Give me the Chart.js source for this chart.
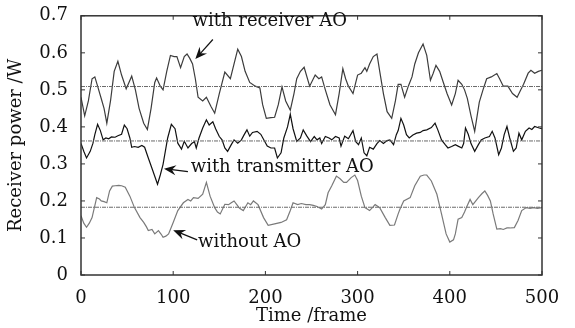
<!DOCTYPE html>
<html>
<head>
<meta charset="utf-8">
<script src="https://cdn.jsdelivr.net/npm/chart.js@4/dist/chart.umd.min.js"></script>
<style>
  html, body { margin: 0; padding: 0; background: #fff; }
  #wrap { width: 575px; height: 328px; }
</style>
</head>
<body>
<div id="wrap"><canvas id="powerChart" width="575" height="328"></canvas></div>
<script>
// frames / power
const receiverFrames = [0,4,8,12,15,18,22,25,28,32,36,40,44,49,52,55,59,63,68,72,76,80,82,86,89,93,97,101,104,108,112,115,118,121,124,127,132,136,141,145,150,156,162,166,170,174,178,183,189,194,197,201,206,210,214,218,222,227,231,234,238,242,248,254,258,261,265,270,276,280,284,287,290,295,300,304,308,310,313,317,321,324,328,332,337,341,344,347,351,355,359,362,366,371,375,379,382,385,389,393,397,402,406,409,413,416,419,423,427,432,436,440,445,451,454,458,463,468,473,477,480,485,488,492,496,500];
const receiverPower = [0.48,0.43,0.47,0.53,0.535,0.51,0.476,0.45,0.41,0.47,0.55,0.577,0.54,0.503,0.52,0.537,0.50,0.45,0.41,0.393,0.45,0.52,0.532,0.51,0.50,0.55,0.593,0.59,0.59,0.56,0.59,0.597,0.585,0.57,0.53,0.48,0.47,0.48,0.455,0.437,0.49,0.548,0.53,0.57,0.61,0.59,0.55,0.52,0.51,0.505,0.46,0.423,0.425,0.426,0.46,0.508,0.47,0.445,0.49,0.53,0.55,0.561,0.51,0.54,0.53,0.535,0.50,0.46,0.433,0.49,0.557,0.53,0.51,0.49,0.54,0.545,0.56,0.55,0.57,0.59,0.597,0.55,0.49,0.441,0.423,0.47,0.515,0.515,0.48,0.51,0.535,0.57,0.60,0.624,0.593,0.526,0.545,0.566,0.55,0.52,0.49,0.459,0.49,0.526,0.515,0.50,0.477,0.43,0.388,0.467,0.50,0.53,0.535,0.544,0.53,0.51,0.51,0.49,0.48,0.50,0.515,0.545,0.553,0.545,0.55,0.553];

const transmitterFrames = [0,3,6,10,13,15,18,21,24,27,30,33,37,40,44,47,50,53,55,58,62,66,69,73,78,83,86,89,94,98,102,105,109,112,116,120,123,125,128,132,136,139,143,146,150,153,156,159,163,166,170,174,177,180,183,186,191,195,199,202,206,210,213,217,220,224,227,230,234,238,241,245,249,253,256,259,261,265,269,272,276,280,282,286,290,295,298,301,304,307,310,313,317,321,324,328,332,335,339,342,344,347,350,353,356,360,364,368,371,375,380,384,387,391,395,398,402,406,409,413,415,417,420,423,427,431,434,438,443,446,449,453,456,459,462,465,469,472,475,478,482,486,489,492,497,500];
const transmitterPower = [0.355,0.334,0.316,0.334,0.356,0.379,0.407,0.39,0.365,0.37,0.368,0.373,0.372,0.376,0.38,0.405,0.395,0.37,0.345,0.347,0.345,0.35,0.345,0.316,0.281,0.245,0.27,0.299,0.37,0.407,0.395,0.356,0.34,0.361,0.343,0.355,0.36,0.343,0.37,0.397,0.419,0.405,0.414,0.395,0.374,0.365,0.343,0.334,0.352,0.365,0.356,0.365,0.379,0.392,0.375,0.385,0.388,0.38,0.362,0.348,0.343,0.343,0.316,0.33,0.37,0.40,0.434,0.395,0.361,0.37,0.392,0.375,0.36,0.374,0.365,0.37,0.355,0.374,0.37,0.365,0.374,0.37,0.348,0.375,0.368,0.39,0.36,0.352,0.37,0.33,0.322,0.345,0.34,0.355,0.363,0.355,0.363,0.365,0.352,0.379,0.39,0.423,0.405,0.379,0.37,0.378,0.383,0.385,0.39,0.392,0.398,0.41,0.392,0.365,0.352,0.343,0.347,0.352,0.348,0.343,0.355,0.397,0.38,0.355,0.334,0.352,0.365,0.37,0.374,0.388,0.37,0.325,0.343,0.379,0.401,0.37,0.334,0.343,0.383,0.365,0.388,0.397,0.393,0.401,0.397,0.395];

const noAoFrames = [0,3,6,9,12,17,20,22,25,28,31,34,37,41,44,48,53,58,64,68,71,73,77,80,84,87,89,92,95,100,105,111,116,119,122,127,132,136,140,145,148,151,156,160,163,166,169,172,176,181,184,187,192,198,203,210,217,223,227,230,235,239,244,248,252,256,261,265,268,272,277,281,285,288,293,297,300,304,308,313,316,319,324,330,335,340,344,346,350,357,362,368,372,375,380,386,391,396,400,404,406,409,413,416,418,422,425,431,435,438,441,444,447,451,455,458,462,465,470,474,478,483,487,491,495,500];
const noAoPower = [0.16,0.14,0.129,0.14,0.155,0.209,0.205,0.2,0.198,0.195,0.227,0.24,0.241,0.242,0.241,0.237,0.213,0.182,0.155,0.142,0.13,0.12,0.123,0.111,0.12,0.11,0.102,0.105,0.111,0.142,0.174,0.195,0.204,0.2,0.209,0.207,0.218,0.25,0.213,0.182,0.17,0.165,0.191,0.19,0.195,0.2,0.19,0.18,0.174,0.195,0.19,0.2,0.19,0.155,0.134,0.138,0.142,0.149,0.174,0.195,0.19,0.193,0.19,0.19,0.188,0.185,0.178,0.19,0.222,0.241,0.267,0.26,0.25,0.25,0.263,0.27,0.255,0.213,0.182,0.174,0.182,0.19,0.182,0.155,0.134,0.135,0.165,0.178,0.2,0.209,0.241,0.267,0.27,0.27,0.254,0.218,0.165,0.111,0.089,0.095,0.111,0.151,0.155,0.17,0.182,0.204,0.19,0.209,0.22,0.227,0.215,0.2,0.165,0.124,0.125,0.123,0.127,0.127,0.128,0.147,0.174,0.182,0.18,0.182,0.18,0.182];

// dash-dot mean levels of the three curves
const meanLevels = [0.509, 0.362, 0.183];
const frameRange = [0, 500];

// callouts: text, text anchor (frame, power), arrow tail and head (frame, power)
const callouts = [
    { text: "with receiver AO", at: [121, 0.685], tail: [143, 0.636], head: [124, 0.583] },
    { text: "with transmitter AO", at: [119, 0.290], tail: [116, 0.279], head: [90, 0.287] },
    { text: "without AO", at: [127, 0.089], tail: [126, 0.095], head: [100, 0.121] }
];

const serif = "'DejaVu Serif', 'Liberation Serif', serif";

function toPoints(xs, ys) {
    return xs.map((x, i) => ({ x: x, y: ys[i] }));
}

const meanSets = meanLevels.map(level => ({
    data: frameRange.map(f => ({ x: f, y: level })),
    borderColor: "#6a6a6a",
    borderWidth: 1,
    borderDash: [4, 1, 1, 1],
    pointRadius: 0
}));

const frameBox = {
    id: "frameBox",
    afterDatasetsDraw(chart) {
        const { ctx, chartArea: a, scales } = chart;
        ctx.save();
        ctx.strokeStyle = "#333";
        ctx.lineWidth = 1.5;
        ctx.strokeRect(a.left, a.top, a.right - a.left, a.bottom - a.top);
        ctx.lineWidth = 1;
        ctx.beginPath();
        scales.x.ticks.forEach(t => {
            const px = scales.x.getPixelForValue(t.value);
            ctx.moveTo(px, a.bottom); ctx.lineTo(px, a.bottom - 4);
            ctx.moveTo(px, a.top); ctx.lineTo(px, a.top + 4);
        });
        scales.y.ticks.forEach(t => {
            const py = scales.y.getPixelForValue(t.value);
            ctx.moveTo(a.left, py); ctx.lineTo(a.left + 4, py);
            ctx.moveTo(a.right, py); ctx.lineTo(a.right - 4, py);
        });
        ctx.stroke();

        // callouts
        ctx.fillStyle = "#111";
        ctx.strokeStyle = "#111";
        ctx.font = "18px " + serif;
        ctx.textBaseline = "middle";
        callouts.forEach(c => {
            const tx = scales.x.getPixelForValue(c.at[0]);
            const ty = scales.y.getPixelForValue(c.at[1]);
            ctx.fillText(c.text, tx, ty);
            const x0 = scales.x.getPixelForValue(c.tail[0]);
            const y0 = scales.y.getPixelForValue(c.tail[1]);
            const x1 = scales.x.getPixelForValue(c.head[0]);
            const y1 = scales.y.getPixelForValue(c.head[1]);
            const ang = Math.atan2(y1 - y0, x1 - x0);
            ctx.lineWidth = 1.2;
            ctx.beginPath();
            ctx.moveTo(x0, y0);
            ctx.lineTo(x1 - 6 * Math.cos(ang), y1 - 6 * Math.sin(ang));
            ctx.stroke();
            const len = 12, wid = 5;
            const bx = x1 - len * Math.cos(ang), by = y1 - len * Math.sin(ang);
            const nx = x1 - 8 * Math.cos(ang), ny = y1 - 8 * Math.sin(ang);
            ctx.beginPath();
            ctx.moveTo(x1, y1);
            ctx.lineTo(bx - wid * Math.sin(ang), by + wid * Math.cos(ang));
            ctx.lineTo(nx, ny);
            ctx.lineTo(bx + wid * Math.sin(ang), by - wid * Math.cos(ang));
            ctx.closePath();
            ctx.fill();
        });
        ctx.restore();
    }
};

new Chart(document.getElementById("powerChart"), {
    type: "line",
    data: {
        datasets: [
            ...meanSets,
            { data: toPoints(receiverFrames, receiverPower), borderColor: "#3c3c3c", borderWidth: 1.2, pointRadius: 0 },
            { data: toPoints(transmitterFrames, transmitterPower), borderColor: "#111", borderWidth: 1.2, pointRadius: 0 },
            { data: toPoints(noAoFrames, noAoPower), borderColor: "#7a7a7a", borderWidth: 1.2, pointRadius: 0 }
        ]
    },
    options: {
        responsive: false,
        animation: false,
        events: [],
        layout: { padding: { top: 13, right: 33, left: 0, bottom: 0 } },
        plugins: { legend: { display: false }, tooltip: { enabled: false } },
        scales: {
            x: {
                type: "linear",
                min: 0,
                max: 500,
                grid: { display: false },
                border: { display: false },
                ticks: { stepSize: 100, color: "#111", font: { family: serif, size: 18 }, padding: 5, maxRotation: 0 },
                title: { display: true, text: "Time /frame", color: "#111", font: { family: serif, size: 18 }, padding: { top: 0, bottom: 1 } },
                afterFit: s => { s.height = 53; }
            },
            y: {
                min: 0,
                max: 0.7,
                grid: { display: false },
                border: { display: false },
                ticks: {
                    stepSize: 0.1,
                    color: "#111",
                    font: { family: serif, size: 18 },
                    padding: 5,
                    callback: v => v === 0 ? "0" : v.toFixed(1)
                },
                title: { display: true, text: "Receiver power /W", color: "#111", font: { family: serif, size: 18 }, padding: { top: 6, bottom: 4 } },
                afterFit: s => { s.width = 81; }
            }
        }
    },
    plugins: [frameBox]
});
</script>
</body>
</html>
